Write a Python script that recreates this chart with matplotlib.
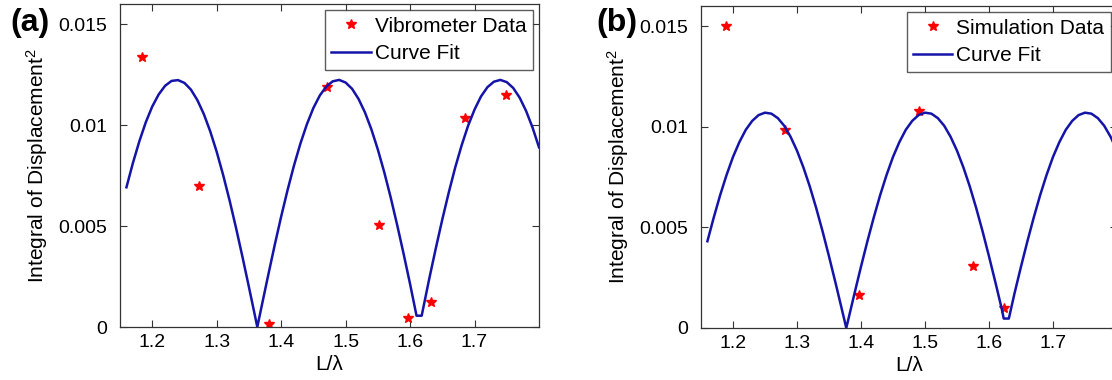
import matplotlib
matplotlib.use("Agg")
import matplotlib.pyplot as plt

plt.rcParams['font.family'] = ['Liberation Sans', 'DejaVu Sans']
plt.rcParams['mathtext.default'] = 'regular'

# (a) vibrometer measurements
vib_x = [1.1836, 1.2724, 1.3814, 1.4713, 1.5515, 1.5964, 1.6326, 1.6859, 1.7494]
vib_y = [0.01339, 0.00697, 0.00016, 0.01191, 0.00503, 0.00044, 0.00123, 0.01035, 0.0115]

# (a) curve fit
fit_a_x = [1.16, 1.17, 1.18, 1.19, 1.20, 1.21, 1.22, 1.23, 1.24, 1.25,
           1.26, 1.27, 1.28, 1.29, 1.30, 1.31, 1.32, 1.33, 1.34, 1.35,
           1.36, 1.363, 1.37, 1.38, 1.39, 1.40, 1.41, 1.42, 1.43, 1.44,
           1.45, 1.46, 1.47, 1.48, 1.49, 1.50, 1.51, 1.52, 1.53, 1.54,
           1.55, 1.56, 1.57, 1.58, 1.59, 1.60, 1.61, 1.618, 1.63, 1.64,
           1.65, 1.66, 1.67, 1.68, 1.69, 1.70, 1.71, 1.72, 1.73, 1.74,
           1.75, 1.76, 1.77, 1.78, 1.79, 1.80]
fit_a_y = [0.00692, 0.00812, 0.00920, 0.01014, 0.01092, 0.01152, 0.01195, 0.01219, 0.01223, 0.01209,
           0.01176, 0.01124, 0.01055, 0.00969, 0.00868, 0.00753, 0.00627, 0.00491, 0.00347, 0.00198,
           0.00046, 0.0, 0.00107, 0.00258, 0.00406, 0.00547, 0.00679, 0.00801, 0.00910, 0.01005,
           0.01085, 0.01147, 0.01191, 0.01217, 0.01224, 0.01211, 0.01180, 0.01130, 0.01063, 0.00979,
           0.00879, 0.00766, 0.00641, 0.00505, 0.00362, 0.00213, 0.00056, 0.00056, 0.00243, 0.00391,
           0.00533, 0.00666, 0.00790, 0.00900, 0.00997, 0.01077, 0.01142, 0.01188, 0.01215, 0.01224,
           0.01213, 0.01184, 0.01136, 0.01070, 0.00988, 0.00890]

# (b) simulation results
sim_x = [1.189, 1.282, 1.3967, 1.4906, 1.5746, 1.6236]
sim_y = [0.01503, 0.00985, 0.00162, 0.01077, 0.0031, 0.00101]

# (b) curve fit
fit_b_x = [1.16, 1.17, 1.18, 1.19, 1.20, 1.21, 1.22, 1.23, 1.24, 1.25,
           1.26, 1.27, 1.28, 1.29, 1.30, 1.31, 1.32, 1.33, 1.34, 1.35,
           1.36, 1.37, 1.377, 1.38, 1.39, 1.40, 1.41, 1.42, 1.43, 1.44,
           1.45, 1.46, 1.47, 1.48, 1.49, 1.50, 1.51, 1.52, 1.53, 1.54,
           1.55, 1.56, 1.57, 1.58, 1.59, 1.60, 1.61, 1.62, 1.623, 1.631,
           1.64, 1.65, 1.66, 1.67, 1.68, 1.69, 1.70, 1.71, 1.72, 1.73,
           1.74, 1.75, 1.76, 1.77, 1.78, 1.79, 1.80]
fit_b_y = [0.00431, 0.00550, 0.00661, 0.00761, 0.00850, 0.00924, 0.00985, 0.01029, 0.01058, 0.01070,
           0.01065, 0.01043, 0.01005, 0.00950, 0.00881, 0.00798, 0.00703, 0.00596, 0.00480, 0.00356,
           0.00227, 0.00094, 0.0, 0.00040, 0.00174, 0.00305, 0.00431, 0.00550, 0.00661, 0.00761,
           0.00850, 0.00924, 0.00985, 0.01029, 0.01058, 0.01070, 0.01065, 0.01043, 0.01005, 0.00950,
           0.00881, 0.00798, 0.00703, 0.00596, 0.00480, 0.00356, 0.00227, 0.00094, 0.00047, 0.00047,
           0.00174, 0.00305, 0.00431, 0.00550, 0.00661, 0.00761, 0.00850, 0.00924, 0.00985, 0.01029,
           0.01058, 0.01070, 0.01065, 0.01043, 0.01005, 0.00950, 0.00881]

xticks = [1.2, 1.3, 1.4, 1.5, 1.6, 1.7]
xtick_labels = ['1.2', '1.3', '1.4', '1.5', '1.6', '1.7']
yticks = [0, 0.005, 0.01, 0.015]
ytick_labels = ['0', '0.005', '0.01', '0.015']

W, H = 1112, 380
fig = plt.figure(figsize=(W / 100, H / 100), dpi=100)

def panel(rect, px, py, fx, fy, data_label, tag, tag_x):
    l, t, r, b = rect
    ax = fig.add_axes([l / W, 1 - b / H, (r - l) / W, (b - t) / H])
    ax.plot(px, py, linestyle='none', marker='*', color='red', markersize=7.5,
            label=data_label)
    ax.plot(fx, fy, color='#1414a8', linewidth=1.8, label='Curve Fit')
    ax.set_xlim(1.15, 1.8)
    ax.set_ylim(0, 0.016)
    ax.set_xticks(xticks)
    ax.set_xticklabels(xtick_labels)
    ax.set_yticks(yticks)
    ax.set_yticklabels(ytick_labels)
    ax.tick_params(direction='in', top=True, right=True, length=5, width=0.8,
                   labelsize=14, color='#333333')
    ax.tick_params(axis='y', pad=9)
    ax.tick_params(axis='x', pad=5)
    for s in ax.spines.values():
        s.set_color('#333333')
        s.set_linewidth(0.9)
    ax.set_xlabel('L/λ', fontsize=15, labelpad=3)
    ax.set_ylabel('Integral of Displacement$^2$', fontsize=15, labelpad=6)
    leg = ax.legend(loc='upper right', fontsize=15, frameon=True, fancybox=False,
                    handlelength=1.9, handletextpad=0.2, borderpad=0.3,
                    labelspacing=0.42, borderaxespad=0.3)
    leg.get_frame().set_edgecolor('#333333')
    leg.get_frame().set_linewidth(1.0)
    fig.text(tag_x / W, 1 - 23 / H, tag, fontsize=23, fontweight='bold',
             ha='center', va='center')
    return ax

panel((120, 4, 539, 327), vib_x, vib_y, fit_a_x, fit_a_y, 'Vibrometer Data', '(a)', 30)
panel((701, 6, 1117, 328), sim_x, sim_y, fit_b_x, fit_b_y, 'Simulation Data', '(b)', 617)

fig.savefig('out.png', dpi=100)
